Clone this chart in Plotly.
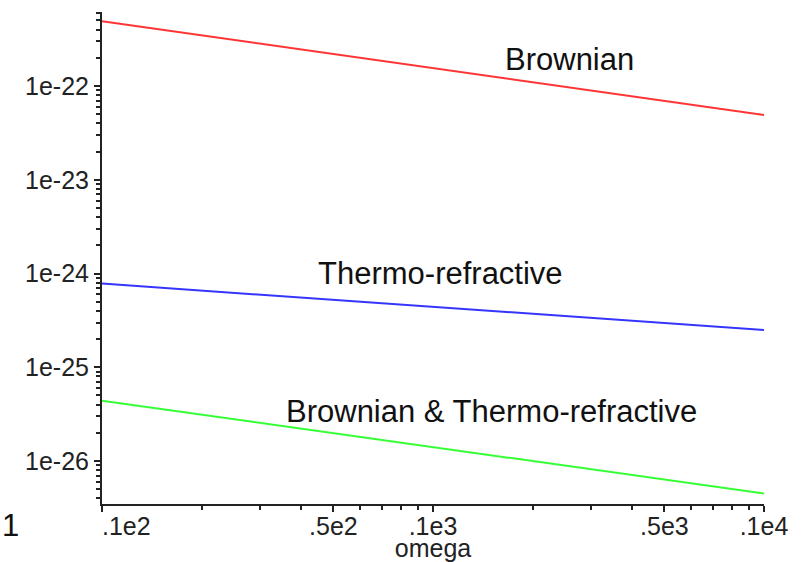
import plotly.graph_objects as go

# Data (log-log)
omega = [10, 100, 1000]
brownian = [4.9e-22, 1.55e-22, 4.9e-23]
thermo_refractive = [7.8e-25, 4.4e-25, 2.5e-25]
combined = [4.4e-26, 1.42e-26, 4.5e-27]

x_tickvals = [10, 50, 100, 500, 1000]
x_ticktext = ["\u00a0\u00a0\u00a0\u00a0\u00a0\u00a0\u00a0.1e2", ".5e2", ".1e3", ".5e3", ".1e4"]
x_minor = [20, 30, 40, 60, 70, 80, 90, 200, 300, 400, 600, 700, 800, 900]

y_tickvals = [1e-22, 1e-23, 1e-24, 1e-25, 1e-26]
y_ticktext = ["1e-22", "1e-23", "1e-24", "1e-25", "1e-26"]
y_minor = [k * 10.0 ** n for n in range(-27, -21) for k in range(2, 10)]

labels = ["Brownian", "Thermo-refractive", "Brownian & Thermo-refractive"]

W, H = 803, 562
L, R, T, B = 102, 39, 12, 58
pw, ph = W - L - R, H - T - B

def px(x, y):
    return (x - L) / pw, (H - B - y) / ph

tick_font = dict(family="Liberation Sans, Arial, sans-serif", size=25, color="#222")
ann_font = dict(family="Liberation Sans, Arial, sans-serif", size=31, color="#111")

fig = go.Figure()
fig.add_trace(go.Scatter(x=omega, y=brownian, mode="lines",
                         line=dict(color="#ff3535", width=2), showlegend=False))
fig.add_trace(go.Scatter(x=omega, y=thermo_refractive, mode="lines",
                         line=dict(color="#3535ff", width=2), showlegend=False))
fig.add_trace(go.Scatter(x=omega, y=combined, mode="lines",
                         line=dict(color="#35ff35", width=2), showlegend=False))

ann_pos = [(569, 60), (440, 273), (491, 411)]
for txt, (ax, ay) in zip(labels, ann_pos):
    xp, yp = px(ax, ay)
    fig.add_annotation(text=txt, x=xp, y=yp, xref="paper", yref="paper",
                       showarrow=False, xanchor="center", yanchor="middle", font=ann_font)

xp, yp = px(0, 525)
fig.add_annotation(text="1", x=xp, y=yp, xref="paper", yref="paper", showarrow=False,
                   xanchor="left", yanchor="middle", font=ann_font)

fig.update_layout(
    width=W, height=H,
    margin=dict(l=L, r=R, t=T, b=B, pad=0),
    paper_bgcolor="white", plot_bgcolor="white",
    xaxis=dict(type="log", range=[1, 3], showgrid=False, zeroline=False, automargin=False,
               showline=True, linecolor="#222", linewidth=2,
               ticks="outside", ticklen=6, tickwidth=1.5, tickcolor="#222",
               tickvals=x_tickvals, ticktext=x_ticktext, tickfont=tick_font,
               ticklabelstandoff=-7,
               minor=dict(ticks="outside", ticklen=4, tickwidth=1.5, tickcolor="#222",
                          tickvals=x_minor, showgrid=False),
               title=dict(text="omega", font=tick_font, standoff=2)),
    yaxis=dict(type="log", range=[-26.4587, -21.2107], showgrid=False, zeroline=False,
               automargin=False,
               showline=True, linecolor="#222", linewidth=2,
               ticks="outside", ticklen=6, tickwidth=1.5, tickcolor="#222",
               tickvals=y_tickvals, ticktext=y_ticktext, tickfont=tick_font,
               minor=dict(ticks="outside", ticklen=4, tickwidth=1.5, tickcolor="#222",
                          tickvals=y_minor, showgrid=False)),
)

fig.write_html("out.html", config={"displayModeBar": False},
               post_script="document.body.style.margin='0';")
